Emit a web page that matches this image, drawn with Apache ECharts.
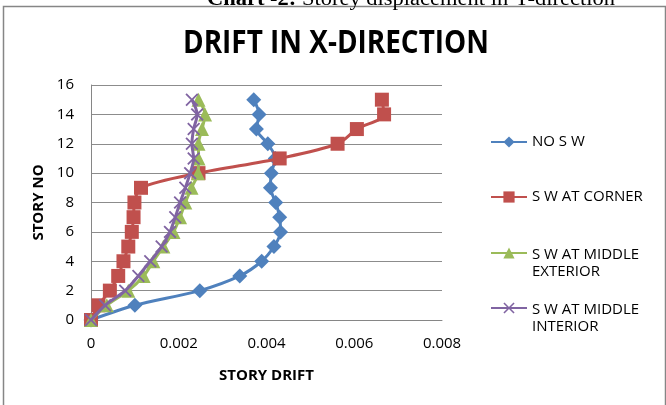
<!DOCTYPE html>
<html>
<head>
<meta charset="utf-8">
<script src="https://cdn.jsdelivr.net/npm/echarts@6/dist/echarts.min.js"></script>
<style>
html,body{margin:0;padding:0;background:#fff;}
#c{width:666px;height:405px;}
</style>
</head>
<body>
<div id="c"></div>
<script>
// ---- data ----
const stories = [0,1,2,3,4,5,6,7,8,9,10,11,12,13,14,15];
const noSW      = [0,0.00100,0.00248,0.00339,0.00389,0.00417,0.00432,0.00430,0.00421,0.00409,0.00411,0.00420,0.00403,0.00377,0.00383,0.00371];
const swCorner  = [0,0.00017,0.00043,0.00062,0.00074,0.00085,0.00093,0.00097,0.00099,0.00114,0.00245,0.00430,0.00562,0.00606,0.00668,0.00663];
const swMidExt  = [0,0.00036,0.00085,0.00120,0.00142,0.00165,0.00188,0.00203,0.00215,0.00229,0.00244,0.00245,0.00245,0.00253,0.00260,0.00245];
const swMidInt  = [0,0.00032,0.00078,0.00108,0.00135,0.00161,0.00180,0.00192,0.00203,0.00215,0.00226,0.00234,0.00230,0.00234,0.00242,0.00230];
const seriesNames = ['NO S W','S W AT CORNER','S W AT MIDDLE EXTERIOR','S W AT MIDDLE INTERIOR'];
const legendLines = [['NO S W'],['S W AT CORNER'],['S W AT MIDDLE','EXTERIOR'],['S W AT MIDDLE','INTERIOR']];
const xTicks = [0,0.002,0.004,0.006,0.008];
const yTicks = [0,2,4,6,8,10,12,14,16];
const chartTitle = 'DRIFT IN X-DIRECTION';
const captionBold = 'Chart -2:';
const captionRest = ' Storey displacement in Y-direction';

const FONT = 'Open Sans';
const colors = ['#4F81BD','#C0504D','#9BBB59','#8064A2'];
const symbols = ['diamond','rect','triangle','path://M0,1L1,0L5,4L9,0L10,1L6,5L10,9L9,10L5,6L1,10L0,9L4,5Z'];
const symSizes = [15,14,14,13];
const allX = [noSW, swCorner, swMidExt, swMidInt];

// measure title width to mimic the condensed original font
const mc = document.createElement('canvas').getContext('2d');
mc.font = 'bold 33px "Open Sans"';
const titleW = mc.measureText(chartTitle).width || 300;
const titleScale = 306 / titleW;
mc.font = 'bold 20px "Liberation Serif"';
let capW = mc.measureText(captionBold).width;
mc.font = '20px "Liberation Serif"';
capW += mc.measureText(captionRest).width;
const capScale = 408 / (capW || 400);

const chart = echarts.init(document.getElementById('c'), null, {renderer:'canvas'});

const series = allX.map((xs,i)=>({
  name: seriesNames[i],
  type: 'line',
  smooth: 0.3,
  data: xs.map((x,k)=>[x, stories[k]]),
  symbol: symbols[i],
  symbolSize: symSizes[i],
  showAllSymbol: true,
  lineStyle: {color: colors[i], width: 3},
  itemStyle: {color: colors[i]},
  emphasis: {disabled: true},
  animation: false,
  z: 2 + i
}));

const iconY = [142, 197, 253, 308];
const legends = seriesNames.map((n,i)=>{
  const multi = legendLines[i].length > 1;
  return {
    data: [n],
    orient: 'vertical',
    left: 490,
    top: multi ? iconY[i] - 28.5 : iconY[i] - 9.5,
    itemWidth: 36,
    itemHeight: 14,
    itemGap: 0,
    padding: 0,
    selectedMode: false,
    formatter: () => multi ? '{t|' + legendLines[i][0] + '}\n{s|' + legendLines[i][1] + '}' : '{s|' + legendLines[i][0] + '}',
    textStyle: {fontFamily: FONT, fontSize: 15, color: '#000', lineHeight: 19,
      rich: {
        t: {fontFamily: FONT, fontSize: 15, color: '#000', lineHeight: 38, verticalAlign: 'bottom'},
        s: {fontFamily: FONT, fontSize: 15, color: '#000', lineHeight: 19}
      }}
  };
});

chart.setOption({
  animation: false,
  backgroundColor: '#fff',
  graphic: [
    {type:'text', x: 411, y: 0, scaleX: capScale, style:{text: '{b|' + captionBold + '}{r|' + captionRest + '}', font:'20px "Liberation Serif"', fill:'#000', align:'center', verticalAlign:'middle',
      rich: {b: {fontFamily: 'Liberation Serif', fontWeight: 'bold', fontSize: 20, fill: '#000'}, r: {fontFamily: 'Liberation Serif', fontSize: 20, fill: '#000'}}}, z:1},
    {type:'rect', shape:{x:3.5,y:6.5,width:662,height:420}, style:{fill:'#fff', stroke:'#868686', lineWidth:1.5}, silent:true, z:-10},
    {type:'text', x: 336, y: 44, scaleX: titleScale, style:{text: chartTitle, font:'bold 33px "Open Sans"', fill:'#000', align:'center', verticalAlign:'middle'}, z:1}
  ],
  legend: legends,
  grid: {left: 91, right: 224, top: 85, bottom: 85, containLabel: false},
  xAxis: {
    type: 'value', min: 0, max: 0.008, interval: 0.002,
    name: 'STORY DRIFT', nameLocation: 'middle', nameGap: 48,
    nameTextStyle: {fontFamily: FONT, fontWeight: 'bold', fontSize: 15, color: '#000'},
    axisLine: {show: true, lineStyle: {color: '#868686', width: 1}},
    axisTick: {show: false},
    splitLine: {show: false},
    axisLabel: {fontFamily: FONT, fontSize: 15, color: '#000', margin: 16,
      formatter: v => { const t = xTicks.find(tt=>Math.abs(tt-v)<1e-9); return t===0 ? '0' : (t!==undefined ? t.toFixed(3) : ''); }}
  },
  yAxis: {
    type: 'value', min: 0, max: 16, interval: 2,
    name: 'STORY NO', nameLocation: 'middle', nameGap: 45, nameRotate: 90,
    nameTextStyle: {fontFamily: FONT, fontWeight: 'bold', fontSize: 15, color: '#000'},
    axisLine: {show: true, lineStyle: {color: '#868686', width: 1}},
    axisTick: {show: false},
    splitLine: {show: true, lineStyle: {color: '#8c8c8c', width: 1}},
    axisLabel: {fontFamily: FONT, fontSize: 15, color: '#000', margin: 17,
      formatter: v => yTicks.includes(v) ? String(v) : ''}
  },
  series: series
});
</script>
</body>
</html>
